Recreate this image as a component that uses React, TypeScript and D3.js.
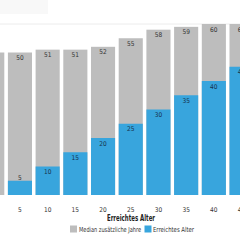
import React from "react";
import * as d3 from "d3";

const ages = ["0", "5", "10", "15", "20", "25", "30", "35", "40", "45"];
const reachedAge = [0, 5, 10, 15, 20, 25, 30, 35, 40, 45];
const medianTotal = [50, 50, 51, 51, 52, 55, 58, 59, 60, 60];

const GREY = "#bdbdbd";
const BLUE = "#38a5dd";
const FONT = "'DejaVu Sans Condensed', 'Liberation Sans Narrow', 'Roboto', sans-serif";

const width = 240;
const height = 240;

const App = () => {
  const x = d3
    .scaleBand<string>()
    .domain(ages)
    .range([-21.6, 255.4])
    .paddingInner(0.13)
    .paddingOuter(0.065);

  const y = d3.scaleLinear().domain([0, 60]).range([195, 24]);

  const bw = x.bandwidth();

  return (
    <svg
      width={width}
      height={height}
      style={{ position: "fixed", left: 0, top: 0, background: "#fff" }}
      fontFamily={FONT}
    >
      <rect x={0} y={0} width={48} height={14} fill="#f8f8f8" />
      <line x1={0} x2={width} y1={y(60)} y2={y(60)} stroke="#ececec" />

      {/* grey bars: median total */}
      {ages.map((a, i) => (
        <rect
          key={"g" + a}
          x={x(a)}
          y={y(medianTotal[i])}
          width={bw}
          height={y(0) - y(medianTotal[i])}
          fill={GREY}
        />
      ))}

      {/* blue bars: reached age */}
      {ages.map((a, i) => (
        <rect
          key={"b" + a}
          x={x(a)}
          y={y(reachedAge[i])}
          width={bw}
          height={y(0) - y(reachedAge[i])}
          fill={BLUE}
        />
      ))}

      {/* labels */}
      {ages.map((a, i) => (
        <text
          key={"lg" + a}
          x={(x(a) ?? 0) + bw / 2}
          y={y(medianTotal[i]) + 7.5}
          textAnchor="middle"
          fontSize={6.5}
          fill="#333"
        >
          {medianTotal[i]}
        </text>
      ))}
      {ages.map((a, i) =>
        reachedAge[i] > 0 ? (
          <text
            key={"lb" + a}
            x={(x(a) ?? 0) + bw / 2}
            y={reachedAge[i] < 8 ? y(reachedAge[i]) - 1 : y(reachedAge[i]) + 7.5}
            textAnchor="middle"
            fontSize={6.5}
            fill={reachedAge[i] < 8 ? "#333" : "#17324d"}
          >
            {reachedAge[i]}
          </text>
        ) : null
      )}

      {/* x ticks */}
      {ages.map((a) => (
        <text
          key={"t" + a}
          x={(x(a) ?? 0) + bw / 2}
          y={211.5}
          textAnchor="middle"
          fontSize={6.5}
          fill="#333"
        >
          {a}
        </text>
      ))}

      <text
        x={107}
        y={220.5}
        fontSize={8}
        fontWeight="bold"
        fill="#222"
        textLength={48}
        lengthAdjust="spacingAndGlyphs"
      >
        Erreichtes Alter
      </text>

      {/* legend */}
      <rect x={70} y={225.5} width={7} height={7} fill={GREY} />
      <text
        x={79}
        y={231.5}
        fontSize={7}
        fill="#333"
        textLength={62}
        lengthAdjust="spacingAndGlyphs"
      >
        Median zusätzliche Jahre
      </text>
      <rect x={144.5} y={225.5} width={7} height={7} fill={BLUE} />
      <text
        x={153}
        y={231.5}
        fontSize={7}
        fill="#333"
        textLength={41}
        lengthAdjust="spacingAndGlyphs"
      >
        Erreichtes Alter
      </text>
    </svg>
  );
};

export default App;
